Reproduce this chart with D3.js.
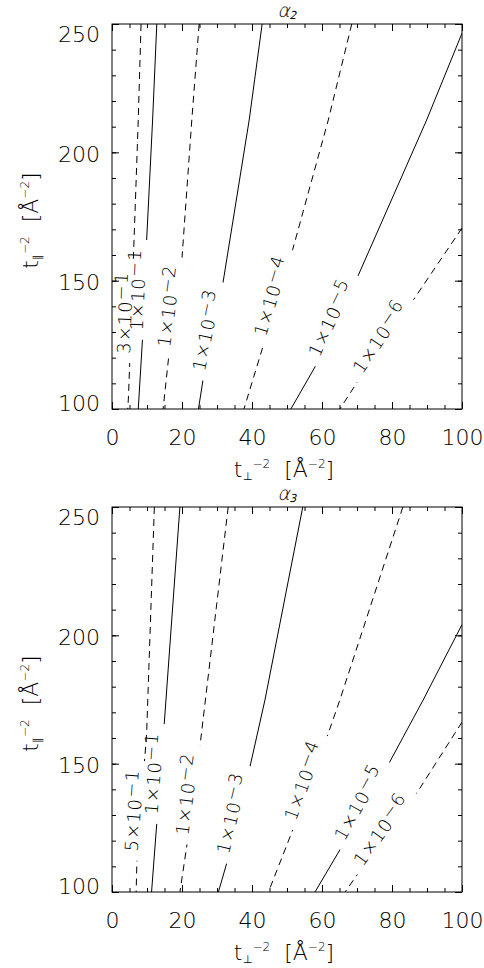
<!DOCTYPE html>
<html><head><meta charset="utf-8">
<script src="https://cdn.jsdelivr.net/npm/d3@7"></script>
<style>
body{margin:0;background:#fff}
svg{display:block}
text{font-family:"DejaVu Sans",sans-serif;font-weight:200;fill:#000}
</style>
</head><body>
<svg id="c" width="484" height="968"></svg>
<script>
// ---------- data ----------
const xTicks = [0, 20, 40, 60, 80, 100];
const xMinorTicks = [0,5,10,15,20,25,30,35,40,45,50,55,60,65,70,75,80,85,90,95,100];
const yTicks = [100, 150, 200, 250];
const yMinorTicks = [100,110,120,130,140,150,160,170,180,190,200,210,220,230,240,250];

// alpha_2 panel contours
const a2Mantissa = ["3×10", "1×10", "1×10", "1×10", "1×10", "1×10", "1×10"];
const a2Exponent = ["−1", "−1", "−2", "−3", "−4", "−5", "−6"];
const a2Dashed   = [true, false, true, false, true, false, true];
const a2LabelY   = [137.4, 146.4, 139.7, 130.2, 143.2, 134.3, 126.5];
const a2Lines = [
  [[8.3,250],[7.5,212.6],[6.4,169.7],[5.6,139.4],[5.1,119.1],[4.7,104.7],[4.5,100]],
  [[12.8,250],[11.6,212.6],[9.9,165.8],[8.7,126.9],[7.5,100]],
  [[24.9,250],[22.8,212.6],[19.9,156.9],[16.1,119.1],[14.6,100]],
  [[42.9,250],[39.2,212.6],[31.7,149.1],[26.0,111.3],[24.7,100]],
  [[68.5,250],[61.8,212.6],[51.6,162.0],[43.1,124.2],[37.7,100]],
  [[100,246.4],[89.9,212.6],[70.4,152.2],[58.0,116.4],[51.1,100]],
  [[100,170.5],[86.1,142.5],[69.9,110.1],[65.1,100]]
];

// alpha_3 panel contours
const a3Mantissa = ["5×10", "1×10", "1×10", "1×10", "1×10", "1×10", "1×10"];
const a3Exponent = ["−1", "−1", "−2", "−3", "−4", "−5", "−6"];
const a3Dashed   = [true, false, true, false, true, false, true];
const a3LabelY   = [131.6, 146.0, 137.8, 130.0, 142.5, 133.5, 122.6];
const a3Lines = [
  [[12.1,250],[9.9,161.9],[8.2,131.5],[7.1,111.3],[6.9,100]],
  [[19.4,250],[14.9,165.1],[12.8,126.9],[11.3,100]],
  [[33.2,250],[25.1,156.5],[21.5,119.1],[19.4,100]],
  [[54.5,250],[43.7,174.8],[39.4,148.7],[32.8,111.3],[30.4,100]],
  [[83.1,250],[65.1,174.8],[61.8,161.9],[51.3,123.0],[44.7,100]],
  [[100,204.2],[88.9,174.8],[79.2,150.3],[65.1,116.4],[58.0,100]],
  [[100,166.2],[88.0,140.5],[69.0,104.7],[66.6,100]]
];

const panels = [
  {id:"a2", sub:"2", top:24,  bottom:409, mant:a2Mantissa, exp:a2Exponent, dashed:a2Dashed, labelY:a2LabelY, lines:a2Lines},
  {id:"a3", sub:"3", top:507, bottom:892, mant:a3Mantissa, exp:a3Exponent, dashed:a3Dashed, labelY:a3LabelY, lines:a3Lines}
];

// ---------- drawing ----------
const svg = d3.select("#c");
const defs = svg.append("defs");
const L = 112, R = 462;
const TICK_FS = 22, LAB_FS = 18;

panels.forEach(p => {
  const x = d3.scaleLinear().domain([0,100]).range([L,R]);
  const y = d3.scaleLinear().domain([100,250]).range([p.bottom,p.top]);
  const g = svg.append("g");

  defs.append("clipPath").attr("id","clip-"+p.id)
    .append("rect").attr("x",L).attr("y",p.top).attr("width",R-L).attr("height",p.bottom-p.top);

  function styleAxis(sel){ sel.select(".domain").remove(); sel.selectAll("line").attr("stroke","#000").attr("stroke-width",1); }
  const fmt = d3.format("d");
  g.append("g").attr("transform",`translate(0,${p.bottom})`)
    .call(d3.axisBottom(x).tickValues(xMinorTicks).tickSize(-4).tickFormat("")).call(styleAxis);
  const xb = g.append("g").attr("transform",`translate(0,${p.bottom})`)
    .call(d3.axisBottom(x).tickValues(xTicks).tickSize(-7).tickFormat(fmt)).call(styleAxis);
  xb.selectAll("text").attr("y",36).attr("dy",0).attr("font-size",TICK_FS).attr("font-family","DejaVu Sans").attr("font-weight",200).attr("fill","#000");

  g.append("g").attr("transform",`translate(0,${p.top})`)
    .call(d3.axisTop(x).tickValues(xMinorTicks).tickSize(-4).tickFormat("")).call(styleAxis);
  g.append("g").attr("transform",`translate(0,${p.top})`)
    .call(d3.axisTop(x).tickValues(xTicks).tickSize(-7).tickFormat("")).call(styleAxis);

  g.append("g").attr("transform",`translate(${L},0)`)
    .call(d3.axisLeft(y).tickValues(yMinorTicks).tickSize(-4).tickFormat("")).call(styleAxis);
  const yl = g.append("g").attr("transform",`translate(${L},0)`)
    .call(d3.axisLeft(y).tickValues(yTicks).tickSize(-7).tickFormat(fmt)).call(styleAxis);
  yl.selectAll("text").attr("x",-12).attr("font-size",TICK_FS).attr("font-family","DejaVu Sans").attr("font-weight",200).attr("fill","#000")
    .attr("dy", d => d===250 ? "0.8em" : d===100 ? "0.07em" : "0.41em");

  g.append("g").attr("transform",`translate(${R},0)`)
    .call(d3.axisRight(y).tickValues(yMinorTicks).tickSize(-4).tickFormat("")).call(styleAxis);
  g.append("g").attr("transform",`translate(${R},0)`)
    .call(d3.axisRight(y).tickValues(yTicks).tickSize(-7).tickFormat("")).call(styleAxis);

  g.append("rect").attr("x",L).attr("y",p.top).attr("width",R-L).attr("height",p.bottom-p.top)
    .attr("fill","none").attr("stroke","#000").attr("stroke-width",1);

  // title (slanted alpha with subscript)
  const tt = g.append("text").attr("transform",`translate(${(L+R)/2},${p.top-7}) skewX(-14)`).attr("text-anchor","middle");
  tt.append("tspan").text("α").attr("font-size",19);
  tt.append("tspan").text(p.sub).attr("font-size",11).attr("dy",2).attr("font-weight",400);

  const xt = g.append("text").attr("x",(L+R)/2 - 3).attr("y",p.bottom+68).attr("text-anchor","middle");
  xt.append("tspan").text("t").attr("font-size",22);
  xt.append("tspan").text("⊥").attr("font-size",11).attr("dy",3);
  xt.append("tspan").text("−2").attr("font-size",12).attr("dy",-12);
  xt.append("tspan").text("\u00a0\u00a0[Å").attr("font-size",22).attr("dy",9);
  xt.append("tspan").text("−2").attr("font-size",12).attr("dy",-9);
  xt.append("tspan").text("]").attr("font-size",22).attr("dy",9);

  const cy = (p.top+p.bottom)/2 + 4;
  const yt = g.append("text").attr("transform",`translate(38,${cy}) rotate(-90)`).attr("text-anchor","middle");
  yt.append("tspan").text("t").attr("font-size",22);
  yt.append("tspan").text("∥").attr("font-size",11).attr("dy",3);
  yt.append("tspan").text("−2").attr("font-size",12).attr("dy",-12);
  yt.append("tspan").text("\u00a0\u00a0[Å").attr("font-size",22).attr("dy",9);
  yt.append("tspan").text("−2").attr("font-size",12).attr("dy",-9);
  yt.append("tspan").text("]").attr("font-size",22).attr("dy",9);

  const line = d3.line().x(d=>x(d[0])).y(d=>y(d[1]));
  const cg = g.append("g").attr("clip-path",`url(#clip-${p.id})`);
  const lg = g.append("g");
  p.lines.forEach((pts,i) => {
    const ly = p.labelY[i];
    let k = 0;
    for (let j=0;j<pts.length-1;j++){ const a=pts[j][1], b=pts[j+1][1]; if ((ly<=a && ly>=b)||(ly>=a && ly<=b)) { k=j; break; } }
    const A = pts[k], B = pts[k+1];
    const t = (ly - A[1])/(B[1]-A[1]);
    const ax = x(A[0] + t*(B[0]-A[0])), ay = y(ly);
    let P0 = [x(A[0]),y(A[1])], P1 = [x(B[0]),y(B[1])];
    if (P1[1] > P0[1]) { const tmp=P0; P0=P1; P1=tmp; }
    const ang = Math.atan2(P1[1]-P0[1], P1[0]-P0[0]) * 180/Math.PI;

    const txt = lg.append("text").attr("transform",`translate(${ax},${ay}) rotate(${ang})`)
      .attr("text-anchor","middle").attr("font-size",LAB_FS).attr("letter-spacing",1);
    txt.append("tspan").text(p.mant[i]);
    txt.append("tspan").text(p.exp[i]).attr("dy",-5);
    const len = txt.node().getComputedTextLength();

    const mid = `mask-${p.id}-${i}`;
    const m = defs.append("mask").attr("id",mid).attr("maskUnits","userSpaceOnUse")
      .attr("x",0).attr("y",0).attr("width",484).attr("height",968);
    m.append("rect").attr("x",0).attr("y",0).attr("width",484).attr("height",968).attr("fill","#fff");
    const gw = len + 18;
    m.append("rect").attr("transform",`translate(${ax},${ay}) rotate(${ang})`)
      .attr("x",-gw/2).attr("y",-12).attr("width",gw).attr("height",24).attr("fill","#000");

    cg.append("path").datum(pts).attr("d",line).attr("fill","none").attr("stroke","#000")
      .attr("stroke-width",1).attr("stroke-dasharray", p.dashed[i] ? "7,5" : null)
      .attr("mask",`url(#${mid})`);
  });
});
</script>
</body></html>
